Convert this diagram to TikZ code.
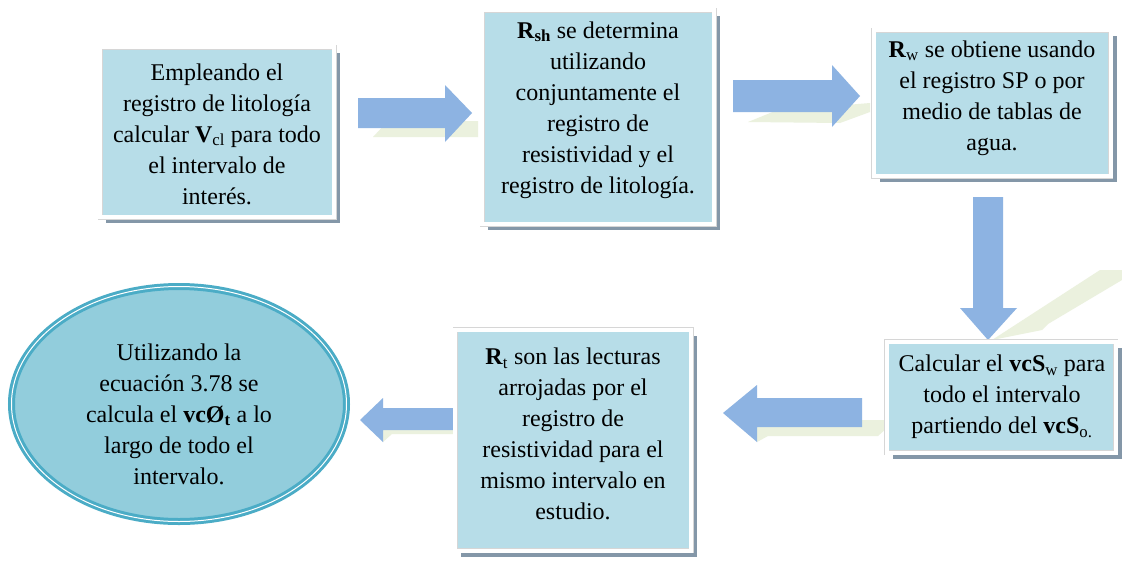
\documentclass[tikz,border=0pt]{standalone}
\usepackage{fontspec}
\IfFontExistsTF{LiberationSerif-Regular.ttf}
  {\setmainfont{LiberationSerif-Regular.ttf}[BoldFont=LiberationSerif-Bold.ttf,ItalicFont=LiberationSerif-Italic.ttf]}
  {\setmainfont{Liberation Serif}}
\usetikzlibrary{shadows,shapes.geometric}
\definecolor{boxblue}{HTML}{B7DDE8}
\definecolor{shadowgray}{HTML}{8497A8}
\definecolor{arrowblue}{HTML}{8DB3E2}
\definecolor{ellfill}{HTML}{92CDDC}
\definecolor{ellborder}{HTML}{4BACC6}
\definecolor{greenshadow}{HTML}{EBF1DE}
\definecolor{framegray}{HTML}{D6D6D6}
\definecolor{txt}{HTML}{000000}
\tikzset{
  panel/.style={rectangle, fill=boxblue, draw=framegray, double=white,
    double distance=4pt, line width=0.5pt, inner sep=0pt,
    drop shadow={shadow xshift=6pt, shadow yshift=-6pt, fill=shadowgray, opacity=1}},
  oval/.style={ellipse, fill=ellfill, draw=ellborder, double=white,
    double distance=1pt, line width=3pt, inner sep=0pt},
  labeltext/.style={align=center, text=txt, font=\rmfamily\fontsize{24}{31}\selectfont, inner sep=0pt},
  blockarrow/.style={fill=arrowblue, draw=none},
  arrowshade/.style={fill=greenshadow, draw=none},
}
\begin{document}
\begin{tikzpicture}[x=1pt,y=-1pt]
\useasboundingbox (0,0) rectangle (1122,563);
\fill[white] (0,0) rectangle (1122,563);
% green perspective shadows of the arrows
\path[arrowshade] (373,137) -- (387,122) -- (478,121) -- (478,137) -- cycle;
\path[arrowshade] (748,122) -- (775,111) -- (870,103) -- (870,112) -- (840,123) -- cycle;
\path[arrowshade] (992,340) -- (1100,270) -- (1122,270) -- (1122,280) -- (1048,324) -- (1042,330) -- cycle;
\path[arrowshade] (757,442) -- (768,436) -- (878,436) -- (887,428) -- (887,420) -- (757,420) -- cycle;
\path[arrowshade] (383,442) -- (392,434) -- (455,434) -- (455,428) -- (383,428) -- cycle;
% block arrows
\path[blockarrow] (358,98) -- (445,98) -- (445,85) -- (472,113) -- (445,142) -- (445,128) -- (358,128) -- cycle;
\path[blockarrow] (733,80) -- (832,80) -- (832,65) -- (860,96) -- (832,127) -- (832,112) -- (733,112) -- cycle;
\path[blockarrow] (973,197) -- (1003,197) -- (1003,308) -- (1017,308) -- (988,340) -- (960,308) -- (973,308) -- cycle;
\path[blockarrow] (862,398) -- (757,398) -- (757,385) -- (723,413) -- (757,442) -- (757,427) -- (862,427) -- cycle;
\path[blockarrow] (455,408) -- (383,408) -- (383,398) -- (360,420) -- (383,442) -- (383,430) -- (455,430) -- cycle;
% panels
\node[panel, minimum width=234pt, minimum height=170pt] (b1) at (217,132) {};
\node[panel, minimum width=232pt, minimum height=214pt] (b2) at (598,117) {};
\node[panel, minimum width=237pt, minimum height=146pt] (b3) at (992,103) {};
\node[panel, minimum width=229pt, minimum height=111pt] (b4) at (1001,397) {};
\node[panel, minimum width=236pt, minimum height=221pt] (b5) at (573,440) {};
\node[oval, minimum width=335pt, minimum height=235pt] (e1) at (179,404) {};
% texts
\node[labeltext] (t1) at (217,134) {Empleando el\\registro de litología\\calcular \textbf{V}\textsubscript{cl} para todo\\el intervalo de\\interés.};
\node[labeltext] (t2) at (598,110) {\textbf{R\textsubscript{sh}} se determina\\utilizando\\conjuntamente el\\registro de\\resistividad y el\\registro de litología.};
\node[labeltext] (t3) at (992,98) {\textbf{R}\textsubscript{w} se obtiene usando\\el registro SP o por\\medio de tablas de\\agua.};
\node[labeltext] (t4) at (1002,397) {Calcular el \textbf{vcS}\textsubscript{w} para\\todo el intervalo\\partiendo del \textbf{vcS}\textsubscript{o.}};
\node[labeltext] (t5) at (573,434) {\textbf{R}\textsubscript{t} son las lecturas\\arrojadas por el\\registro de\\resistividad para el\\mismo intervalo en\\estudio.};
\node[labeltext] (t6) at (179,414) {Utilizando la\\ecuación 3.78 se\\calcula el \textbf{vcØ}\textsubscript{\textbf{t}} a lo\\largo de todo el\\intervalo.};
\end{tikzpicture}
\end{document}
